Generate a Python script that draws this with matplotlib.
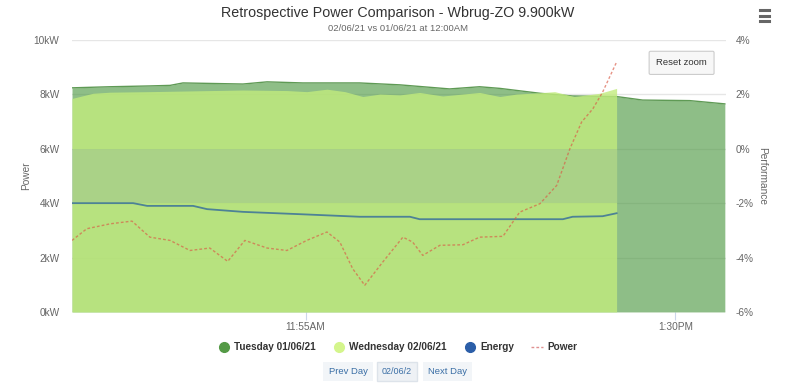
import matplotlib.pyplot as plt
from matplotlib.lines import Line2D
import matplotlib.ticker as mticker

plt.rcParams['font.family'] = ['Liberation Sans', 'DejaVu Sans']

# times in minutes since midnight
tue_t = [655, 664.8, 675, 680.2, 683.5, 698.9, 705.1, 714.3, 728.9, 739.2, 752.0,
         759.7, 764.9, 775.2, 783.6, 794.9, 801.6, 813.7, 822.7]
tue_kw = [8.24, 8.28, 8.31, 8.33, 8.42, 8.38, 8.46, 8.42, 8.42, 8.35, 8.2,
          8.28, 8.22, 8.04, 7.94, 7.92, 7.79, 7.77, 7.65]

wed_t = [655, 660.4, 664.8, 675, 698.9, 710.2, 715.3, 720.5, 725.1, 729.7, 734.1,
         739.2, 744.3, 750.2, 759.7, 764.9, 769.2, 775.2, 779.0, 784.0, 790.6, 794.9]
wed_kw = [7.85, 8.04, 8.08, 8.1, 8.16, 8.14, 8.1, 8.19, 8.1, 7.92, 8.01,
          7.98, 8.07, 7.94, 8.07, 7.92, 8.01, 8.06, 8.1, 7.92, 8.04, 8.22]

energy_t = [655, 670.7, 674.3, 686.1, 689.7, 698.9, 714.3, 728.9, 741.8, 744.3,
            781.1, 783.6, 791.3, 794.9]
energy_kw = [4.0, 4.0, 3.9, 3.9, 3.78, 3.68, 3.59, 3.5, 3.5, 3.41,
             3.41, 3.5, 3.52, 3.63]

power_t = [655, 658.8, 664.8, 670.4, 675.0, 680.2, 685.3, 690.4, 695.0, 699.4,
           705.1, 710.2, 715.3, 720.5, 723.8, 727.1, 730.2, 734.8, 740.0, 742.5,
           745.1, 749.5, 755.4, 759.7, 765.7, 770.0, 775.2, 779.5, 782.9, 785.9,
           788.8, 791.3, 794.9]
power_pct = [-3.37, -2.94, -2.76, -2.66, -3.25, -3.37, -3.74, -3.65, -4.14, -3.37,
             -3.65, -3.74, -3.37, -3.06, -3.43, -4.41, -5.02, -4.17, -3.25, -3.43,
             -3.92, -3.55, -3.53, -3.25, -3.22, -2.33, -2.02, -1.35, 0.0, 0.98,
             1.47, 2.08, 3.19]

band_low, band_high = 4, 6

x_ticks = [715, 810]
x_labels = ['11:55AM', '1:30PM']
left_ticks = [0, 2, 4, 6, 8, 10]
right_ticks = [-6, -4, -2, 0, 2, 4]

fig = plt.figure(figsize=(8, 3.88), dpi=100)
ax = fig.add_axes([0.09, 0.196, 0.8175, 0.701])
ax2 = ax.twinx()

ax.set_axisbelow(True)
ax.grid(axis='y', color='#e6e6e6', linewidth=1)
ax.fill_between(tue_t, 0, tue_kw, color='#4d9942', alpha=0.63, linewidth=0, zorder=2)
ax.plot(tue_t, tue_kw, color='#5f9a55', linewidth=1, zorder=2)
ax.fill_between(wed_t, 0, wed_kw, color='#c2ec7d', alpha=0.8, linewidth=0, zorder=3)
ax.fill_between(wed_t, band_low, band_high, color='#7896aa', alpha=0.2, linewidth=0, zorder=3)
ax.plot(energy_t, energy_kw, color='#4d8296', linewidth=1.3, zorder=4)

ax2.plot(power_t, power_pct, color='#d95a45', alpha=0.65, linewidth=1,
         linestyle=(0, (2, 1.5)), zorder=5)

ax.set_xlim(655, 823)
ax.set_ylim(0, 10)
ax2.set_ylim(-6, 4)
ax.set_xticks(x_ticks)
ax.set_xticklabels(x_labels)
ax.set_yticks(left_ticks)
ax.yaxis.set_major_formatter(mticker.FuncFormatter(lambda v, p: f'{v:.0f}kW'))
ax2.set_yticks(right_ticks)
ax2.yaxis.set_major_formatter(mticker.FuncFormatter(lambda v, p: f'{v:.0f}%'))

for a in (ax, ax2):
    for s in a.spines.values():
        s.set_visible(False)
ax.tick_params(axis='x', colors='#ccd6eb', length=6, labelcolor='#666666', labelsize=7.3, pad=1.5)
ax.tick_params(axis='y', length=0, labelcolor='#666666', labelsize=7.3, pad=9)
ax2.tick_params(axis='y', length=0, labelcolor='#666666', labelsize=7.3, pad=7)
ax.set_ylabel('Power', color='#666666', fontsize=7.3)
ax.yaxis.set_label_coords(-0.062, 0.5)
ax2.set_ylabel('Performance', color='#666666', fontsize=7.3, rotation=270, va='center')
ax2.yaxis.set_label_coords(1.055, 0.5)

fig.text(0.497, 0.966, 'Retrospective Power Comparison - Wbrug-ZO 9.900kW',
         ha='center', va='center', fontsize=10.3, color='#333333')
fig.text(0.497, 0.927, '02/06/21 vs 01/06/21 at 12:00AM',
         ha='center', va='center', fontsize=6.8, color='#666666')

# legend
handles = [
    Line2D([], [], marker='o', linestyle='none', markersize=7, color='#549a46'),
    Line2D([], [], marker='o', linestyle='none', markersize=7, color='#d4f58c'),
    Line2D([], [], marker='o', linestyle='none', markersize=7, color='#2b5ea8'),
    Line2D([], [], color='#e09090', linewidth=1, linestyle=(0, (2, 1.5))),
]
labels = ['Tuesday 01/06/21', 'Wednesday 02/06/21', 'Energy', 'Power']
leg = fig.legend(handles, labels, loc='center', bbox_to_anchor=(0.497, 0.105), ncol=4,
                 frameon=False, handlelength=1.2, handletextpad=0.45, columnspacing=1.7,
                 prop={'weight': 'bold', 'size': 7.2})
for t in leg.get_texts():
    t.set_color('#333333')

# navigation buttons
btn = dict(boxstyle='square,pad=0.55', facecolor='#f2f5f8', edgecolor='none')
fig.text(0.435, 0.043, 'Prev Day', ha='center', va='center', fontsize=6.8, color='#3a6ea5', bbox=btn)
fig.text(0.496, 0.043, '02/06/2', ha='center', va='center', fontsize=6.5, color='#3a6ea5',
         bbox=dict(boxstyle='square,pad=0.55', facecolor='#eef1f5', edgecolor='#dde3ea'))
fig.text(0.559, 0.043, 'Next Day', ha='center', va='center', fontsize=6.8, color='#3a6ea5', bbox=btn)

fig.text(0.852, 0.838, 'Reset zoom', ha='center', va='center', fontsize=6.8, color='#333333',
         bbox=dict(boxstyle='round,pad=0.75,rounding_size=0.15', facecolor='#f7f7f7',
                   edgecolor='#cccccc', linewidth=0.8))

# menu icon
for yy in (0.975, 0.960, 0.945):
    fig.add_artist(Line2D([0.950, 0.961], [yy, yy], color='#666666', linewidth=2.2,
                          transform=fig.transFigure))

fig.savefig('out.png', dpi=100)
